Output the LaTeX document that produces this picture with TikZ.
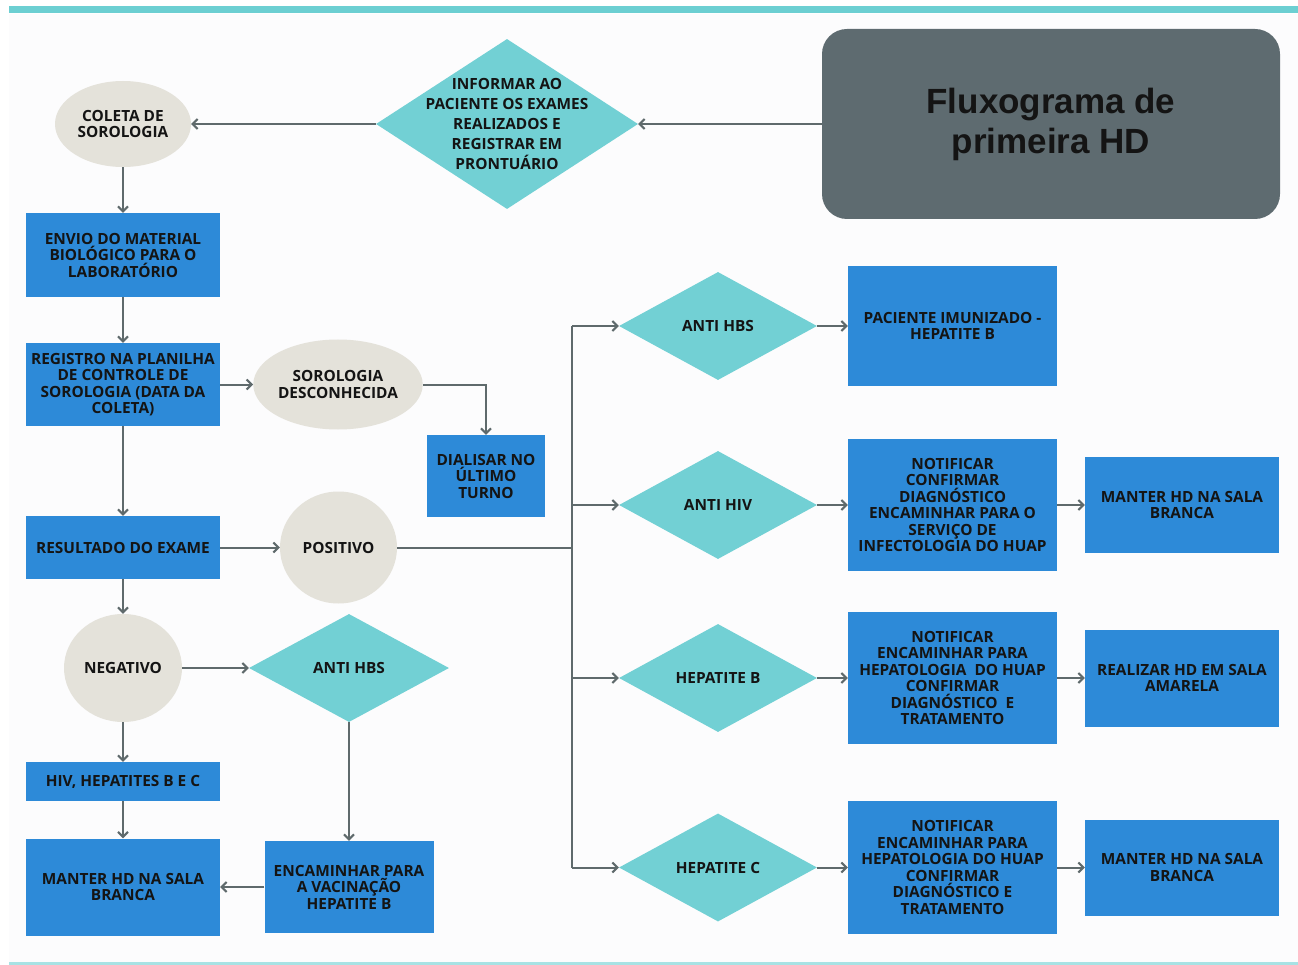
\documentclass[tikz,border=0pt]{standalone}
\usepackage{fontspec}
\setmainfont{Open Sans}
\newfontfamily\titlefont{Liberation Sans}
\usetikzlibrary{shapes.geometric, arrows.meta, positioning}

\definecolor{boxblue}{HTML}{2D8AD8}
\definecolor{diateal}{HTML}{72D0D4}
\definecolor{ovalgray}{HTML}{E4E2DA}
\definecolor{titlegray}{HTML}{5E6B70}
\definecolor{linegray}{HTML}{5F6A6C}
\definecolor{bandteal}{HTML}{6CCFD2}
\definecolor{paper}{HTML}{FCFCFD}

\tikzset{
  txt/.style={font=\bfseries\fontsize{15.4}{16.5}\selectfont, text=black!92, align=center},
  box/.style={txt, rectangle, fill=boxblue, inner sep=0pt},
  oval/.style={txt, ellipse, fill=ovalgray, inner sep=0pt},
  dia/.style={txt, diamond, fill=diateal, inner sep=0pt},
  arr/.style={draw=linegray, line width=2pt, -{Straight Barb[length=5pt,width=10pt]}},
  line/.style={draw=linegray, line width=2pt},
}

\begin{document}
\begin{tikzpicture}[x=1pt, y=-1pt]

    % ================= page =================
    \fill[white] (0,0) rectangle (1298,965);
    \fill[paper] (9,14) rectangle (1298,962);
    \fill[bandteal] (9,6) rectangle (1298,13);
    \fill[bandteal!60] (9,962) rectangle (1298,965);

    % ================= title =================
    \node[rectangle, rounded corners=25pt, fill=titlegray, minimum width=458pt, minimum height=190pt,
          font=\titlefont\bfseries\fontsize{35}{40}\selectfont, text=black!92, align=center]
          (title) at (1051,124) {Fluxograma de\\primeira HD};

    % ================= left column =================
    \node[dia, minimum width=262pt, minimum height=170pt,
          label={[txt, font=\bfseries\fontsize{15.4}{20}\selectfont]center:{INFORMAR AO\\PACIENTE OS EXAMES\\REALIZADOS E\\REGISTRAR EM\\PRONTUÁRIO}}]
          (informar) at (507,124) {};
    \node[oval, minimum width=136pt, minimum height=86pt] (coleta) at (123,124) {COLETA DE\\SOROLOGIA};
    \node[box, minimum width=194pt, minimum height=84pt] (envio) at (123,255) {ENVIO DO MATERIAL\\BIOLÓGICO PARA O\\LABORATÓRIO};
    \node[box, minimum width=194pt, minimum height=83pt] (registro) at (123,384.5) {REGISTRO NA PLANILHA\\DE CONTROLE DE\\SOROLOGIA (DATA DA\\COLETA)};
    \node[oval, minimum width=162pt, minimum height=90pt] (desconhecida) at (338,384.5) {SOROLOGIA\\DESCONHECIDA};
    \node[box, minimum width=118pt, minimum height=82pt] (dialisar) at (486,476) {DIALISAR NO\\ÚLTIMO\\TURNO};
    \node[box, minimum width=194pt, minimum height=63pt] (resultado) at (123,547.5) {RESULTADO DO EXAME};
    \node[oval, minimum width=117pt, minimum height=112pt] (positivo) at (338.5,547.5) {POSITIVO};
    \node[oval, minimum width=118pt, minimum height=108pt] (negativo) at (123,668) {NEGATIVO};
    \node[dia, minimum width=200pt, minimum height=108pt] (hbsneg) at (349,668) {ANTI HBS};
    \node[box, minimum width=194pt, minimum height=39pt] (exames) at (123,781.5) {HIV, HEPATITES B E C};
    \node[box, minimum width=194pt, minimum height=97pt] (branca1) at (123,887) {MANTER HD NA SALA\\BRANCA};
    \node[box, minimum width=169pt, minimum height=92pt] (vacina) at (349,887) {ENCAMINHAR PARA\\A VACINAÇÃO\\HEPATITE B};

    % ================= right branches =================
    \node[dia, minimum width=198pt, minimum height=108pt] (hbspos) at (718,326) {ANTI HBS};
    \node[dia, minimum width=198pt, minimum height=108pt] (hiv) at (718,505) {ANTI HIV};
    \node[dia, minimum width=198pt, minimum height=108pt] (hepb) at (718,678) {HEPATITE B};
    \node[dia, minimum width=198pt, minimum height=108pt] (hepc) at (718,867.5) {HEPATITE C};

    \node[box, minimum width=209pt, minimum height=119pt] (imunizado) at (952.5,326) {PACIENTE IMUNIZADO -\\HEPATITE B};
    \node[box, minimum width=209pt, minimum height=132pt] (notifhiv) at (952.5,505) {NOTIFICAR\\CONFIRMAR\\DIAGNÓSTICO\\ENCAMINHAR PARA O\\SERVIÇO DE\\INFECTOLOGIA DO HUAP};
    \node[box, minimum width=209pt, minimum height=132pt] (notifb) at (952.5,678) {NOTIFICAR\\ENCAMINHAR PARA\\HEPATOLOGIA\ \ DO HUAP\\CONFIRMAR\\DIAGNÓSTICO\ \ E\\TRATAMENTO};
    \node[box, minimum width=209pt, minimum height=133pt] (notifc) at (952.5,867.5) {NOTIFICAR\\ENCAMINHAR PARA\\HEPATOLOGIA DO HUAP\\CONFIRMAR\\DIAGNÓSTICO E\\TRATAMENTO};

    \node[box, minimum width=194pt, minimum height=96pt] (branca2) at (1182,505) {MANTER HD NA SALA\\BRANCA};
    \node[box, minimum width=194pt, minimum height=97pt] (amarela) at (1182,678) {REALIZAR HD EM SALA\\AMARELA};
    \node[box, minimum width=194pt, minimum height=96pt] (branca3) at (1182,867.5) {MANTER HD NA SALA\\BRANCA};

    % ================= connectors =================
    \draw[arr] (title) -- (informar);
    \draw[arr] (informar) -- (coleta);
    \draw[arr] (coleta) -- (envio);
    \draw[arr] (envio) -- (registro);
    \draw[arr] (registro) -- (desconhecida);
    \draw[arr] (desconhecida.east) -| (dialisar.north);
    \draw[arr] (registro) -- (resultado);
    \draw[arr] (resultado) -- (positivo);
    \draw[arr] (resultado) -- (negativo);
    \draw[arr] (negativo) -- (hbsneg);
    \draw[arr] (negativo) -- (exames);
    \draw[arr] (exames) -- (branca1);
    \draw[arr] (hbsneg) -- (vacina);
    \draw[arr] (vacina) -- (branca1);

    % bus from POSITIVO
    \coordinate (bus) at (572,547.5);
    \coordinate (bustop) at (572,326);
    \coordinate (bushiv) at (572,505);
    \coordinate (bushepb) at (572,678);
    \coordinate (busbot) at (572,867.5);
    \draw[line] (positivo.east) -- (bus);
    \draw[line] (bustop) -- (busbot);
    \draw[arr] (bustop) -- (hbspos);
    \draw[arr] (bushiv) -- (hiv);
    \draw[arr] (bushepb) -- (hepb);
    \draw[arr] (busbot) -- (hepc);

    \draw[arr] (hbspos) -- (imunizado);
    \draw[arr] (hiv) -- (notifhiv);
    \draw[arr] (hepb) -- (notifb);
    \draw[arr] (hepc) -- (notifc);
    \draw[arr] (notifhiv) -- (branca2);
    \draw[arr] (notifb) -- (amarela);
    \draw[arr] (notifc) -- (branca3);

\end{tikzpicture}
\end{document}
